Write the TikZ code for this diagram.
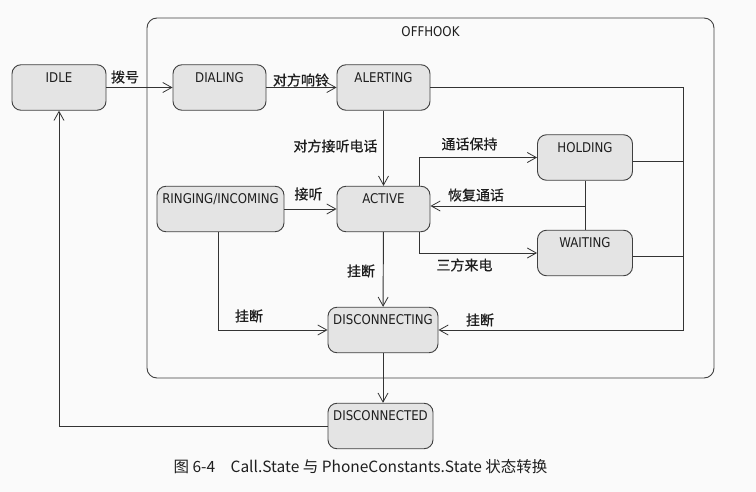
\documentclass[tikz,border=0pt]{standalone}
\usepackage{fontspec}
\usetikzlibrary{arrows.meta,calc}
\newfontfamily\labfont[FakeStretch=0.88]{DejaVu Sans}
\newfontfamily\cjkfont{Noto Sans CJK SC}
\newfontfamily\cjkbfont[FakeBold=0.7]{Noto Sans CJK SC}
\definecolor{boxfill}{HTML}{E4E4E4}
\definecolor{boxline}{HTML}{404040}
\definecolor{linecol}{HTML}{333333}
\definecolor{txtcol}{HTML}{1E1E1E}
\definecolor{bgcol}{HTML}{FAFAFA}
\begin{document}
\begin{tikzpicture}[x=1pt,y=-1pt,
  state/.style={draw=boxline, fill=boxfill, rounded corners=9pt, line width=0.9pt,
    minimum width=#1, minimum height=45.5pt, inner sep=0pt},
  lab/.style={font=\labfont\fontsize{13.4}{15}\selectfont, text=txtcol, inner sep=0pt},
  cjk/.style={font=\cjkbfont\fontsize{14}{16}\selectfont, text=txtcol, inner sep=0pt},
  conn/.style={draw=linecol, line width=0.95pt},
  arr/.style={conn, -{Straight Barb[length=9pt,width=10pt,line width=0.8pt]}}
]
\fill[bgcol] (0,0) rectangle (756,492);
% OFFHOOK super state
\node[draw=boxline, line width=0.9pt, rounded corners=10pt, minimum width=567pt, minimum height=360pt, inner sep=0pt,
  label={[lab,anchor=center,yshift=-14pt]north:OFFHOOK}] (offhook) at (430.5,198) {};
% states
\node[state=94pt, label={[lab,anchor=center,yshift=-13pt]north:IDLE}] (idle) at (59,87.5) {};
\node[state=93pt, label={[lab,anchor=center,yshift=-13pt]north:DIALING}] (dial) at (219.5,87.5) {};
\node[state=93pt, label={[lab,anchor=center,yshift=-13pt]north:ALERTING}] (alert) at (383.5,87.5) {};
\node[state=127pt, label={[lab,anchor=center,yshift=-13pt]north:RINGING/INCOMING}] (ring) at (220.5,209) {};
\node[state=93pt, label={[lab,anchor=center,yshift=-13pt]north:ACTIVE}] (active) at (383.5,209) {};
\node[state=95pt, label={[lab,anchor=center,yshift=-13pt]north:HOLDING}] (hold) at (585,157.5) {};
\node[state=95pt, label={[lab,anchor=center,yshift=-13pt]north:WAITING}] (wait) at (585,253) {};
\node[state=110pt, label={[lab,anchor=center,yshift=-13pt]north:DISCONNECTING}] (discing) at (383,330) {};
\node[state=105pt, label={[lab,anchor=center,yshift=-13pt]north:DISCONNECTED}] (disced) at (380.5,426) {};
% helper coordinates
\coordinate (rc) at (683,330);
\coordinate (br) at (585,206);
% connectors
\draw[arr] (idle) -- (dial);
\draw[arr] (dial) -- (alert);
\draw[arr] (alert) -- (active);
\draw[arr] (ring) -- (active);
\draw[arr] (active) -- (discing);
\draw[arr] (discing.south) -- (discing.south |- disced.north);
\draw[arr] (disced.west) -| (idle.south);
\draw[arr] ([xshift=-2.5pt]ring.south) |- (discing.west);
\draw[arr] ([xshift=35.5pt]active.north) |- (hold.west);
\draw[arr] ([xshift=35.5pt]active.south) |- (wait.west);
\draw[conn] (hold.south) -- (wait.north);
\draw[arr] (br) -- (br -| active.east);
\draw[arr] (alert.east) -| (rc) -- (discing.east);
\draw[conn] ([yshift=-4pt]hold.east) -- ([yshift=-4pt]hold.east -| rc);
\draw[conn] ([yshift=-3pt]wait.east) -- ([yshift=-3pt]wait.east -| rc);
% transition labels
\node[cjk] (l1) at (125,77) {拨号};
\node[cjk] (l2) at (301,80) {对方响铃};
\node[cjk] (l3) at (335.5,146) {对方接听电话};
\node[cjk] (l4) at (308.5,194) {接听};
\node[cjk] (l5) at (469.5,144) {通话保持};
\node[cjk] (l6) at (476,195) {恢复通话};
\node[cjk] (l7) at (464.5,265) {三方来电};
\node[cjk] (l8) at (361,271) {挂断};
\node[cjk] (l9) at (249,316) {挂断};
\node[cjk] (l10) at (480,320) {挂断};
% caption
\node[font=\cjkfont\fontsize{15.5}{18}\selectfont, text=txtcol, inner sep=0pt] (cap) at (360.5,467)
  {图 6-4\hspace{1em}Call.State 与 PhoneConstants.State 状态转换};
\end{tikzpicture}
\end{document}
